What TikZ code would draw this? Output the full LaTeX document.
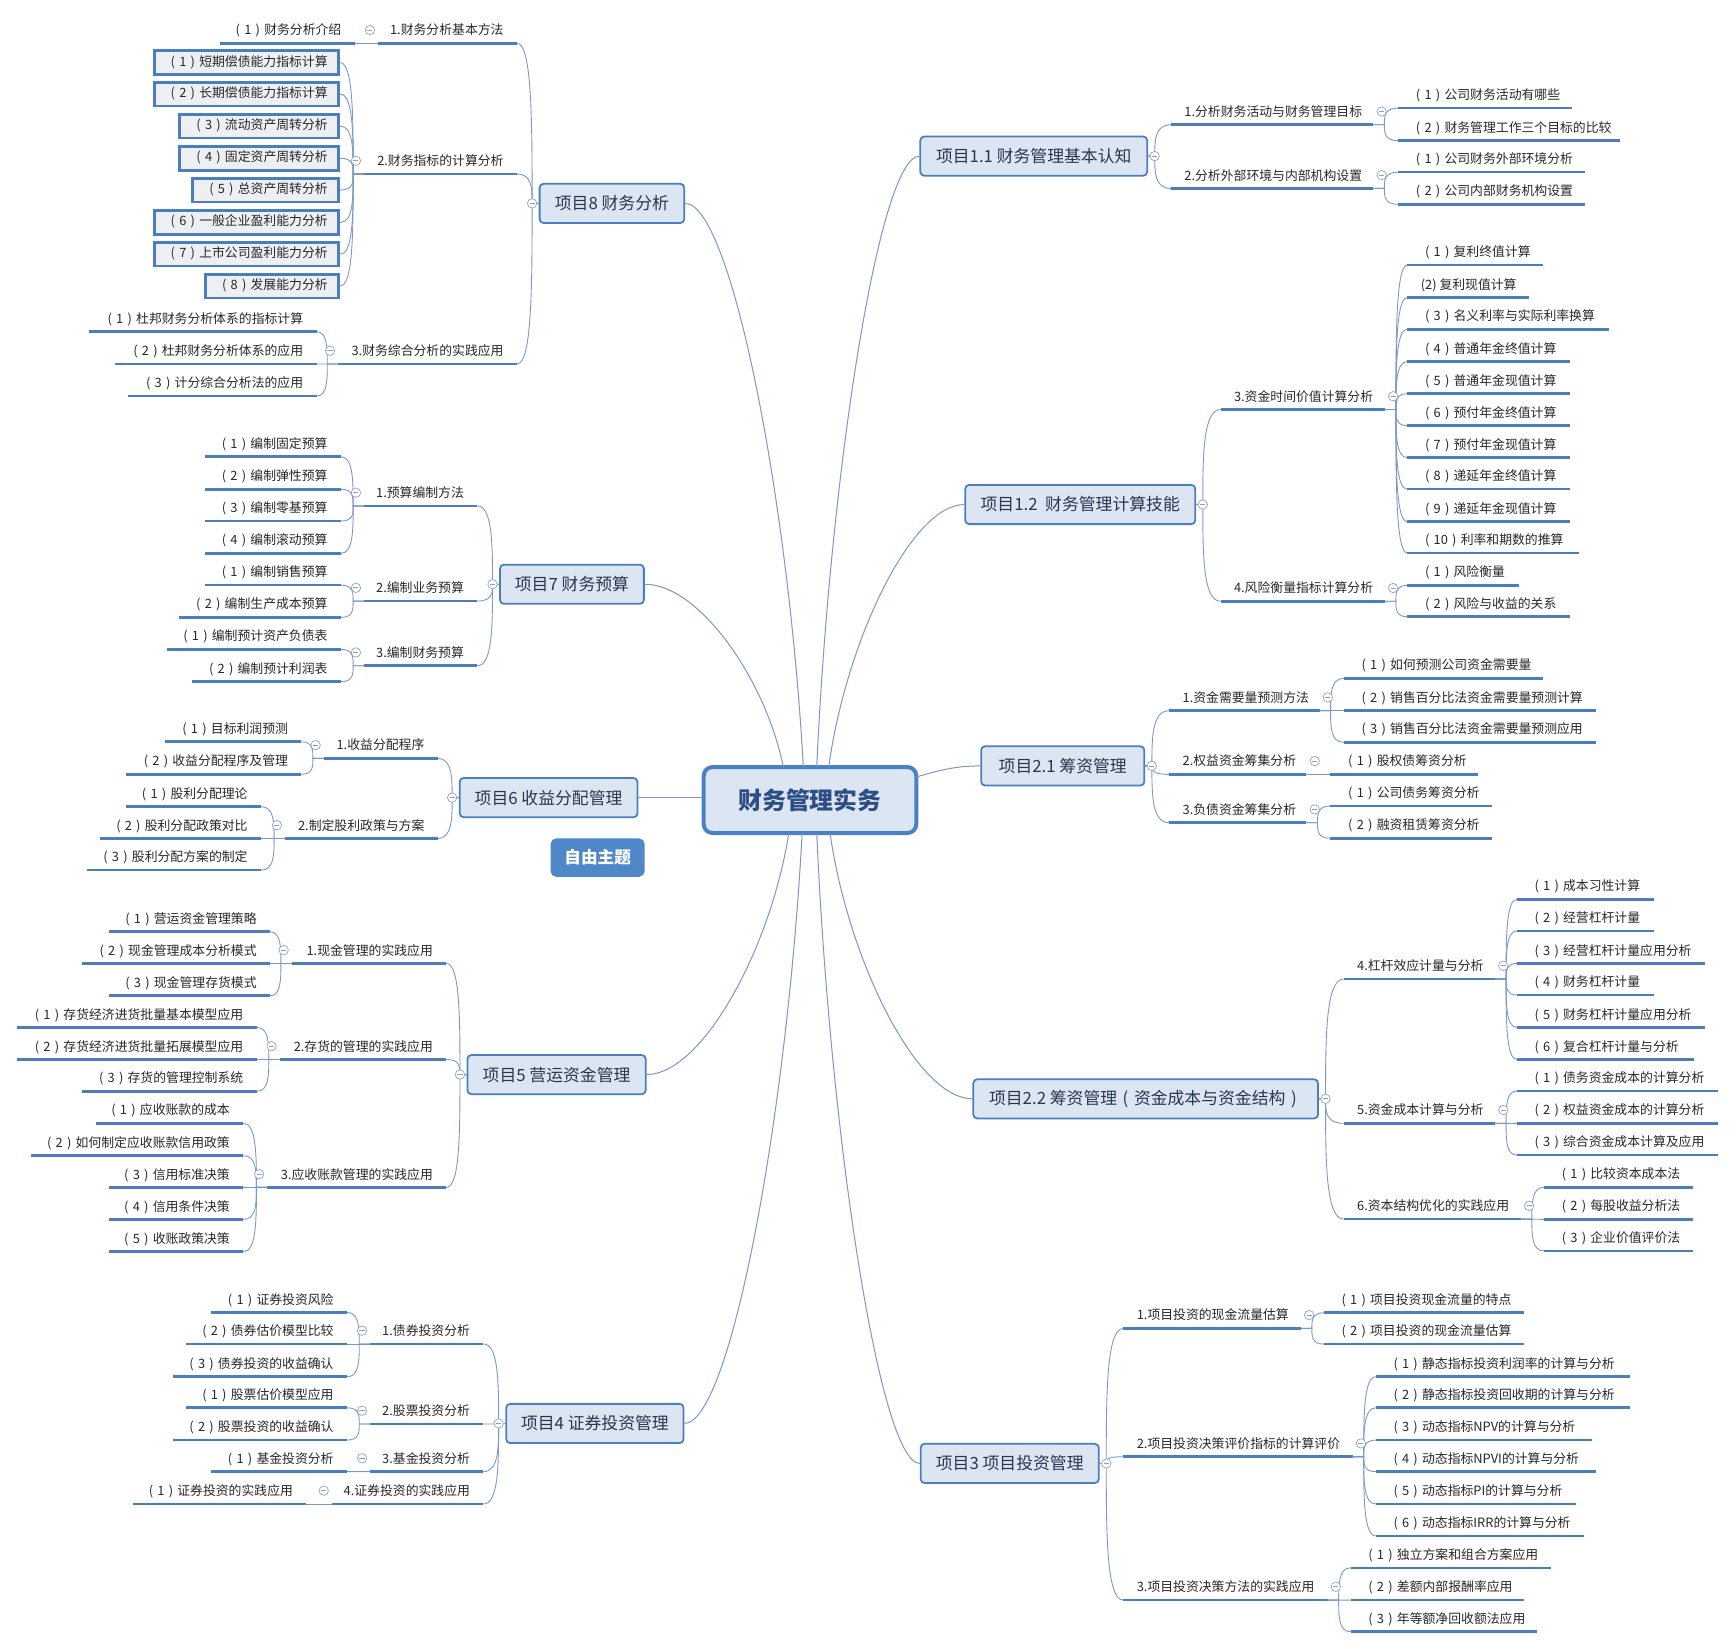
\documentclass[tikz,border=0pt]{standalone}
\usepackage{fontspec}
\setmainfont{Noto Sans CJK SC}
\usetikzlibrary{calc}
\definecolor{ub}{RGB}{74,126,190}
\definecolor{cb}{RGB}{74,128,196}
\definecolor{lb}{RGB}{122,152,200}
\definecolor{tf}{RGB}{220,230,242}
\definecolor{bf}{RGB}{238,239,242}
\definecolor{tx}{RGB}{40,40,40}
\definecolor{tt}{RGB}{40,55,80}
\definecolor{ct}{RGB}{44,78,132}
\definecolor{mk}{RGB}{140,160,190}
\definecolor{ft}{RGB}{79,136,201}
\tikzset{
 itm/.style={inner xsep=12pt, inner ysep=5pt, text height=8.6pt, text depth=2.4pt, font=\fontsize{11.6pt}{13pt}\selectfont, text=tx},
 uline/.style={draw=ub, line width=2.4pt},
 con/.style={draw=lb, line width=0.8pt},
 mcon/.style={draw=lb, line width=0.9pt},
 bx/.style={draw=ub, line width=2.6pt, fill=bf, inner xsep=10pt, inner ysep=0pt, text height=8.6pt, text depth=2.4pt, minimum height=21.5pt, font=\fontsize{11.6pt}{13pt}\selectfont, text=tx},
 topic/.style={draw=ub, line width=1.6pt, fill=tf, rounded corners=3.5pt, minimum height=35.4pt, inner sep=0pt, font=\fontsize{15.2pt}{18pt}\selectfont, text=tt},
 col/.style={circle, draw=mk, line width=0.6pt, fill=white, minimum size=8.5pt, inner sep=0pt,
   path picture={\draw[mk, line width=0.7pt] ([xshift=-2.3pt]path picture bounding box.center) -- ([xshift=2.3pt]path picture bounding box.center);}},
}
% centred full-width parentheses
\newcommand\pp[1]{\makebox[1em][c]{(}#1\makebox[1em][c]{)}}
% left item: name, xl, xr, y(underline), text
\newcommand\mmL[5]{\node[itm,anchor=south east] (#1) at (#3,-#4) {\makebox[\dimexpr #3pt-#2pt-24pt\relax][r]{#5}};\draw[uline] (#1.south west) -- (#1.south east);}
\newcommand\mmR[5]{\node[itm,anchor=south west] (#1) at (#2,-#4) {\makebox[\dimexpr #3pt-#2pt-24pt\relax][l]{#5}};\draw[uline] (#1.south west) -- (#1.south east);}
% boxed leaf: name, xl, ymid, text
\newcommand\mmBX[4]{\node[bx,anchor=east] (#1) at (307.3,-#3) {\makebox[\dimexpr 307.3pt-#2pt-21.3pt\relax][r]{#4}};}
% branches
\newcommand\mmLB[2]{\path (#1.south west) ++(-10,0) coordinate (bP); \path (bP|-#2) coordinate (bQ);
 \draw[con] (#1.south west) -- (bP) .. controls ($(bP)!0.5!(bQ)$) and (bQ) .. (#2);}
\newcommand\mmRB[2]{\path (#1.south east) ++(10,0) coordinate (bP); \path (bP|-#2) coordinate (bQ);
 \draw[con] (#1.south east) -- (bP) .. controls ($(bP)!0.5!(bQ)$) and (bQ) .. (#2);}
\newcommand\mmLT[2]{\path (#1.west) ++(-6,0) coordinate (bP); \path (bP|-#2) coordinate (bQ);
 \draw[con] (#1.west) -- (bP) .. controls ($(bP)!0.5!(bQ)$) and (bQ) .. (#2);}
\newcommand\mmRT[2]{\path (#1.east) ++(6,0) coordinate (bP); \path (bP|-#2) coordinate (bQ);
 \draw[con] (#1.east) -- (bP) .. controls ($(bP)!0.5!(bQ)$) and (bQ) .. (#2);}
% collapse markers
\newcommand\mmLM[1]{\node[col] at ($(#1.south west)+(-7.5,12)$) {};}
\newcommand\mmRM[1]{\node[col] at ($(#1.south east)+(7.5,12)$) {};}
\newcommand\mmTLM[1]{\node[col] at ($(#1.west)+(-6,0)$) {};}
\newcommand\mmTRM[1]{\node[col] at ($(#1.east)+(6,0)$) {};}

\begin{document}
\begin{tikzpicture}[x=1pt,y=1pt]
\fill[white] (0,0) rectangle (1568,-1489);
\useasboundingbox (0,0) rectangle (1568,-1489);

% ---------- central and main topics ----------
\node[draw=cb, line width=3.6pt, fill=tf, rounded corners=8pt, minimum width=192pt, minimum height=59.6pt, inner sep=0pt, font=\fontsize{21.6pt}{24pt}\selectfont\bfseries, text=ct] (ctr) at (731.6,-722.6) {财务管理实务};
\node[fill=ft, rounded corners=5pt, minimum width=85pt, minimum height=34.6pt, inner sep=0pt, text=white, font=\fontsize{15pt}{18pt}\selectfont\bfseries] (free) at (539.8,-774.6) {自由主题};

\node[topic, minimum width=130.6pt] (t8) at (552.7,-183.7) {项目8 财务分析};
\node[topic, minimum width=129.9pt] (t7) at (516.6,-527.7) {项目7 财务预算};
\node[topic, minimum width=160.6pt] (t6) at (495.5,-720.4) {项目6 收益分配管理};
\node[topic, minimum width=160.9pt] (t5) at (502.7,-970.6) {项目5 营运资金管理};
\node[topic, minimum width=160.2pt] (t4) at (537.3,-1285.7) {项目4 证券投资管理};
\node[topic, minimum width=204.9pt] (t11) at (933.7,-141) {项目1.1 财务管理基本认知};
\node[topic, minimum width=207.8pt] (t12) at (975.7,-455.7) {项目1.2\ \ 财务管理计算技能};
\node[topic, minimum width=147.4pt] (t21) at (959.9,-691.8) {项目2.1 筹资管理};
\node[topic, minimum width=311.3pt] (t22) at (1034.8,-992.5) {项目2.2 筹资管理\pp{资金成本与资金结构}};
\node[topic, minimum width=160.8pt] (t3) at (912,-1321.8) {项目3 项目投资管理};

\coordinate (c8) at (725.6,-692.8);
\coordinate (c7) at (707.5,-692.8);
\coordinate (c11) at (737.7,-692.8);
\coordinate (c12) at (748.5,-692.8);
\coordinate (c5) at (712.5,-752.4);
\coordinate (c4) at (724.5,-752.4);
\coordinate (c22) at (749.7,-752.4);
\coordinate (c3) at (737.7,-752.4);
\coordinate (c21) at (827.7,-701.8);
\draw[mcon] (t8.east) .. controls (660,-183.7) and (712,-449) .. (c8);
\draw[mcon] (t7.east) .. controls (631.1,-527.6) and (691.5,-613.2) .. (c7);
\draw[mcon] (t11.west) .. controls (794.2,-140.5) and (749.6,-429) .. (c11);
\draw[mcon] (t12.west) .. controls (823.2,-455.7) and (764.2,-579) .. (c12);
\draw[mcon] (t5.east) .. controls (634.1,-970.5) and (696,-857.2) .. (c5);
\draw[mcon] (t4.east) .. controls (659.7,-1285.6) and (710.9,-1007.2) .. (c4);
\draw[mcon] (t22.west) .. controls (828.1,-992.5) and (766.2,-867.6) .. (c22);
\draw[mcon] (t3.west) .. controls (794.5,-1321.7) and (749.6,-1024.2) .. (c3);
\draw[mcon] (c21) .. controls (852,-694.5) and (866,-691.8) .. (t21.west);
\draw[mcon] (t6.east) -- (ctr.west |- t6.east);

% ---------- 项目8 ----------
\mmL{s81}{342}{467}{39.1}{1.财务分析基本方法}
\mmL{l811}{199}{320.5}{39.1}{\pp{1}财务分析介绍}
\mmL{s82}{329.4}{467}{157.2}{2.财务指标的计算分析}
\mmBX{b1}{139.4}{56.6}{\pp{1}短期偿债能力指标计算}
\mmBX{b2}{139.4}{85}{\pp{2}长期偿债能力指标计算}
\mmBX{b3}{162}{113.9}{\pp{3}流动资产周转分析}
\mmBX{b4}{162}{142.9}{\pp{4}固定资产周转分析}
\mmBX{b5}{173.9}{171.7}{\pp{5}总资产周转分析}
\mmBX{b6}{139.4}{200.9}{\pp{6}一般企业盈利能力分析}
\mmBX{b7}{139.4}{229.5}{\pp{7}上市公司盈利能力分析}
\mmBX{b8}{185.8}{258.4}{\pp{8}发展能力分析}
\mmL{s83}{306}{467}{328.8}{3.财务综合分析的实践应用}
\mmL{l831}{81}{286}{299.6}{\pp{1}杜邦财务分析体系的指标计算}
\mmL{l832}{104}{286}{328.8}{\pp{2}杜邦财务分析体系的应用}
\mmL{l833}{115.8}{286}{357.7}{\pp{3}计分综合分析法的应用}
\mmLT{t8}{s81.south east}\mmLT{t8}{s82.south east}\mmLT{t8}{s83.south east}
\mmLB{s81}{l811.south east}
\mmLB{s82}{b1.east}\mmLB{s82}{b2.east}\mmLB{s82}{b3.east}\mmLB{s82}{b4.east}
\mmLB{s82}{b5.east}\mmLB{s82}{b6.east}\mmLB{s82}{b7.east}\mmLB{s82}{b8.east}
\mmLB{s83}{l831.south east}\mmLB{s83}{l832.south east}\mmLB{s83}{l833.south east}

% ---------- 项目7 ----------
\mmL{s71}{329.4}{431.2}{457}{1.预算编制方法}
\mmL{l711}{185.8}{308}{412.5}{\pp{1}编制固定预算}
\mmL{l712}{185.8}{308}{441.9}{\pp{2}编制弹性预算}
\mmL{l713}{185.8}{308}{470.6}{\pp{3}编制零基预算}
\mmL{l714}{185.8}{308}{499.8}{\pp{4}编制滚动预算}
\mmL{s72}{329.4}{431.2}{542.9}{2.编制业务预算}
\mmL{l721}{185.8}{308}{528.5}{\pp{1}编制销售预算}
\mmL{l722}{162.3}{308}{557.6}{\pp{2}编制生产成本预算}
\mmL{s73}{329.4}{431.2}{601.3}{3.编制财务预算}
\mmL{l731}{150.9}{308}{586.5}{\pp{1}编制预计资产负债表}
\mmL{l732}{174}{308}{615.7}{\pp{2}编制预计利润表}
\mmLT{t7}{s71.south east}\mmLT{t7}{s72.south east}\mmLT{t7}{s73.south east}
\mmLB{s71}{l711.south east}\mmLB{s71}{l712.south east}\mmLB{s71}{l713.south east}\mmLB{s71}{l714.south east}
\mmLB{s72}{l721.south east}\mmLB{s72}{l722.south east}
\mmLB{s73}{l731.south east}\mmLB{s73}{l732.south east}

% ---------- 项目6 ----------
\mmL{s61}{293}{395.5}{685}{1.收益分配程序}
\mmL{l611}{149}{272.3}{670}{\pp{1}目标利润预测}
\mmL{l612}{114.4}{272.3}{699.4}{\pp{2}收益分配程序及管理}
\mmL{s62}{258}{395.5}{757.3}{2.制定股利政策与方案}
\mmL{l621}{114.4}{235.8}{728.6}{\pp{1}股利分配理论}
\mmL{l622}{90.9}{235.8}{757.3}{\pp{2}股利分配政策对比}
\mmL{l623}{78.7}{235.8}{785.9}{\pp{3}股利分配方案的制定}
\mmLT{t6}{s61.south east}\mmLT{t6}{s62.south east}
\mmLB{s61}{l611.south east}\mmLB{s61}{l612.south east}
\mmLB{s62}{l621.south east}\mmLB{s62}{l622.south east}\mmLB{s62}{l623.south east}

% ---------- 项目5 ----------
\mmL{s51}{264.1}{403.2}{870.2}{1.现金管理的实践应用}
\mmL{l511}{98.8}{244}{841.6}{\pp{1}营运资金管理策略}
\mmL{l512}{74.6}{244}{870.2}{\pp{2}现金管理成本分析模式}
\mmL{l513}{98.8}{244}{899.4}{\pp{3}现金管理存货模式}
\mmL{s52}{253.2}{403.2}{956.9}{2.存货的管理的实践应用}
\mmL{l521}{16.1}{231.9}{928}{\pp{1}存货经济进货批量基本模型应用}
\mmL{l522}{16.1}{231.9}{956.9}{\pp{2}存货经济进货批量拓展模型应用}
\mmL{l523}{74.6}{231.9}{985.6}{\pp{3}存货的管理控制系统}
\mmL{s53}{242}{403.2}{1072.5}{3.应收账款管理的实践应用}
\mmL{l531}{86.7}{219.8}{1014.6}{\pp{1}应收账款的成本}
\mmL{l532}{28.2}{219.8}{1043.8}{\pp{2}如何制定应收账款信用政策}
\mmL{l533}{98.8}{219.8}{1072.5}{\pp{3}信用标准决策}
\mmL{l534}{98.8}{219.8}{1101.4}{\pp{4}信用条件决策}
\mmL{l535}{98.8}{219.8}{1130.6}{\pp{5}收账政策决策}
\mmLT{t5}{s51.south east}\mmLT{t5}{s52.south east}\mmLT{t5}{s53.south east}
\mmLB{s51}{l511.south east}\mmLB{s51}{l512.south east}\mmLB{s51}{l513.south east}
\mmLB{s52}{l521.south east}\mmLB{s52}{l522.south east}\mmLB{s52}{l523.south east}
\mmLB{s53}{l531.south east}\mmLB{s53}{l532.south east}\mmLB{s53}{l533.south east}\mmLB{s53}{l534.south east}\mmLB{s53}{l535.south east}

% ---------- 项目4 ----------
\mmL{s41}{334.9}{436.7}{1213.9}{1.债券投资分析}
\mmL{l411}{191}{313.5}{1185.4}{\pp{1}证券投资风险}
\mmL{l412}{168.2}{313.5}{1213.9}{\pp{2}债券估价模型比较}
\mmL{l413}{156.4}{313.5}{1243.5}{\pp{3}债券投资的收益确认}
\mmL{s42}{334.9}{436.7}{1286.2}{2.股票投资分析}
\mmL{l421}{168.2}{313.5}{1271.5}{\pp{1}股票估价模型应用}
\mmL{l422}{156.4}{313.5}{1300.7}{\pp{2}股票投资的收益确认}
\mmL{s43}{334.9}{436.7}{1329.2}{3.基金投资分析}
\mmL{l431}{191}{313.5}{1329.2}{\pp{1}基金投资分析}
\mmL{s44}{300.3}{436.7}{1358.4}{4.证券投资的实践应用}
\mmL{l441}{120.7}{276.8}{1358.4}{\pp{1}证券投资的实践应用}
\mmLT{t4}{s41.south east}\mmLT{t4}{s42.south east}\mmLT{t4}{s43.south east}\mmLT{t4}{s44.south east}
\mmLB{s41}{l411.south east}\mmLB{s41}{l412.south east}\mmLB{s41}{l413.south east}
\mmLB{s42}{l421.south east}\mmLB{s42}{l422.south east}
\mmLB{s43}{l431.south east}
\mmLB{s44}{l441.south east}

% ---------- 项目1.1 ----------
\mmR{s111}{1057.6}{1240}{112.7}{1.分析财务活动与财务管理目标}
\mmR{r1111}{1262.9}{1419.2}{97.6}{\pp{1}公司财务活动有哪些}
\mmR{r1112}{1262.9}{1463.2}{127.1}{\pp{2}财务管理工作三个目标的比较}
\mmR{s112}{1057.6}{1240}{170.2}{2.分析外部环境与内部机构设置}
\mmR{r1121}{1262.9}{1431.2}{155.5}{\pp{1}公司财务外部环境分析}
\mmR{r1122}{1262.9}{1431.2}{184.5}{\pp{2}公司内部财务机构设置}
\mmRT{t11}{s111.south west}\mmRT{t11}{s112.south west}
\mmRB{s111}{r1111.south west}\mmRB{s111}{r1112.south west}
\mmRB{s112}{r1121.south west}\mmRB{s112}{r1122.south west}

% ---------- 项目1.2 ----------
\mmR{s123}{1102.4}{1250.4}{369.9}{3.资金时间价值计算分析}
\mmR{r1231}{1271.1}{1393.5}{239.4}{\pp{1}复利终值计算}
\mmR{r1232}{1271.1}{1381}{268.8}{(2) 复利现值计算}
\mmR{r1233}{1271.1}{1452.8}{297.5}{\pp{3}名义利率与实际利率换算}
\mmR{r1234}{1271.1}{1418}{326.5}{\pp{4}普通年金终值计算}
\mmR{r1235}{1271.1}{1418}{355.6}{\pp{5}普通年金现值计算}
\mmR{r1236}{1271.1}{1418}{384.4}{\pp{6}预付年金终值计算}
\mmR{r1237}{1271.1}{1418}{413.4}{\pp{7}预付年金现值计算}
\mmR{r1238}{1271.1}{1418}{441.8}{\pp{8}递延年金终值计算}
\mmR{r1239}{1271.1}{1418}{471.2}{\pp{9}递延年金现值计算}
\mmR{r12310}{1271.1}{1425.4}{499.6}{\pp{10}利率和期数的推算}
\mmR{s124}{1102.4}{1250.4}{543.1}{4.风险衡量指标计算分析}
\mmR{r1241}{1271.1}{1371.2}{528.7}{\pp{1}风险衡量}
\mmR{r1242}{1271.1}{1418}{557.1}{\pp{2}风险与收益的关系}
\mmRT{t12}{s123.south west}\mmRT{t12}{s124.south west}
\mmRB{s123}{r1231.south west}\mmRB{s123}{r1232.south west}\mmRB{s123}{r1233.south west}\mmRB{s123}{r1234.south west}\mmRB{s123}{r1235.south west}
\mmRB{s123}{r1236.south west}\mmRB{s123}{r1237.south west}\mmRB{s123}{r1238.south west}\mmRB{s123}{r1239.south west}\mmRB{s123}{r12310.south west}
\mmRB{s124}{r1241.south west}\mmRB{s124}{r1242.south west}

% ---------- 项目2.1 ----------
\mmR{s211}{1056}{1191.4}{641.9}{1.资金需要量预测方法}
\mmR{r2111}{1213.8}{1393.6}{612.7}{\pp{1}如何预测公司资金需要量}
\mmR{r2112}{1213.8}{1441.2}{641.9}{\pp{2}销售百分比法资金需要量预测计算}
\mmR{r2113}{1213.8}{1441.2}{670.5}{\pp{3}销售百分比法资金需要量预测应用}
\mmR{s212}{1056}{1179.6}{699.4}{2.权益资金筹集分析}
\mmR{r2121}{1201.7}{1334.7}{699.4}{\pp{1}股权债筹资分析}
\mmR{s213}{1056}{1179.6}{743.1}{3.负债资金筹集分析}
\mmR{r2131}{1201.7}{1346.9}{728}{\pp{1}公司债务筹资分析}
\mmR{r2132}{1201.7}{1346.9}{757.2}{\pp{2}融资租赁筹资分析}
\mmRT{t21}{s211.south west}\mmRT{t21}{s212.south west}\mmRT{t21}{s213.south west}
\mmRB{s211}{r2111.south west}\mmRB{s211}{r2112.south west}\mmRB{s211}{r2113.south west}
\mmRB{s212}{r2121.south west}
\mmRB{s213}{r2131.south west}\mmRB{s213}{r2132.south west}

% ---------- 项目2.2 ----------
\mmR{s224}{1213.6}{1349.9}{884.3}{4.杠杆效应计量与分析}
\mmR{r2241}{1370}{1493.9}{812.3}{\pp{1}成本习性计算}
\mmR{r2242}{1370}{1493.9}{840.9}{\pp{2}经营杠杆计量}
\mmR{r2243}{1370}{1540}{870.2}{\pp{3}经营杠杆计量应用分析}
\mmR{r2244}{1370}{1493.9}{898.7}{\pp{4}财务杠杆计量}
\mmR{r2245}{1370}{1540}{928}{\pp{5}财务杠杆计量应用分析}
\mmR{r2246}{1370}{1529.5}{956.9}{\pp{6}复合杠杆计量与分析}
\mmR{s225}{1213.6}{1349.9}{1014.6}{5.资金成本计算与分析}
\mmR{r2251}{1370}{1551.1}{985.4}{\pp{1}债务资金成本的计算分析}
\mmR{r2252}{1370}{1551.1}{1014.6}{\pp{2}权益资金成本的计算分析}
\mmR{r2253}{1370}{1551.1}{1043.3}{\pp{3}综合资金成本计算及应用}
\mmR{s226}{1213.6}{1373.2}{1101.1}{6.资本结构优化的实践应用}
\mmR{r2261}{1394.6}{1528.7}{1072.4}{\pp{1}比较资本成本法}
\mmR{r2262}{1394.6}{1528.7}{1101.3}{\pp{2}每股收益分析法}
\mmR{r2263}{1394.6}{1528.7}{1129.9}{\pp{3}企业价值评价法}
\mmRT{t22}{s224.south west}\mmRT{t22}{s225.south west}\mmRT{t22}{s226.south west}
\mmRB{s224}{r2241.south west}\mmRB{s224}{r2242.south west}\mmRB{s224}{r2243.south west}
\mmRB{s224}{r2244.south west}\mmRB{s224}{r2245.south west}\mmRB{s224}{r2246.south west}
\mmRB{s225}{r2251.south west}\mmRB{s225}{r2252.south west}\mmRB{s225}{r2253.south west}
\mmRB{s226}{r2261.south west}\mmRB{s226}{r2262.south west}\mmRB{s226}{r2263.south west}

% ---------- 项目3 ----------
\mmR{s31}{1014.6}{1174.5}{1199.8}{1.项目投资的现金流量估算}
\mmR{r311}{1195.7}{1376.4}{1185.7}{\pp{1}项目投资现金流量的特点}
\mmR{r312}{1195.7}{1376.4}{1214}{\pp{2}项目投资的现金流量估算}
\mmR{s32}{1014.6}{1221.3}{1315.7}{2.项目投资决策评价指标的计算评价}
\mmR{r321}{1242.6}{1471.6}{1243.5}{\pp{1}静态指标投资利润率的计算与分析}
\mmR{r322}{1242.6}{1471.6}{1271.5}{\pp{2}静态指标投资回收期的计算与分析}
\mmR{r323}{1242.6}{1437.4}{1300.7}{\pp{3}动态指标NPV的计算与分析}
\mmR{r324}{1242.6}{1440.8}{1329.2}{\pp{4}动态指标NPVI的计算与分析}
\mmR{r325}{1242.6}{1422.7}{1358.4}{\pp{5}动态指标PI的计算与分析}
\mmR{r326}{1242.6}{1430.5}{1387.3}{\pp{6}动态指标IRR的计算与分析}
\mmR{s33}{1014.6}{1198.7}{1445.2}{3.项目投资决策方法的实践应用}
\mmR{r331}{1219.9}{1400.3}{1416.1}{\pp{1}独立方案和组合方案应用}
\mmR{r332}{1219.9}{1376.4}{1445.2}{\pp{2}差额内部报酬率应用}
\mmR{r333}{1219.9}{1387.5}{1473.8}{\pp{3}年等额净回收额法应用}
\mmRT{t3}{s31.south west}\mmRT{t3}{s32.south west}\mmRT{t3}{s33.south west}
\mmRB{s31}{r311.south west}\mmRB{s31}{r312.south west}
\mmRB{s32}{r321.south west}\mmRB{s32}{r322.south west}\mmRB{s32}{r323.south west}
\mmRB{s32}{r324.south west}\mmRB{s32}{r325.south west}\mmRB{s32}{r326.south west}
\mmRB{s33}{r331.south west}\mmRB{s33}{r332.south west}\mmRB{s33}{r333.south west}

% ---------- collapse markers ----------
\mmTLM{t8}\mmTLM{t7}\mmTLM{t6}\mmTLM{t5}\mmTLM{t4}
\mmTRM{t11}\mmTRM{t12}\mmTRM{t21}\mmTRM{t22}\mmTRM{t3}
\mmLM{s81}\mmLM{s82}\mmLM{s83}
\mmLM{s71}\mmLM{s72}\mmLM{s73}
\mmLM{s61}\mmLM{s62}
\mmLM{s51}\mmLM{s52}\mmLM{s53}
\mmLM{s41}\mmLM{s42}\mmLM{s43}\mmLM{s44}
\mmRM{s111}\mmRM{s112}
\mmRM{s123}\mmRM{s124}
\mmRM{s211}\mmRM{s212}\mmRM{s213}
\mmRM{s224}\mmRM{s225}\mmRM{s226}
\mmRM{s31}\mmRM{s32}\mmRM{s33}
\end{tikzpicture}
\end{document}
